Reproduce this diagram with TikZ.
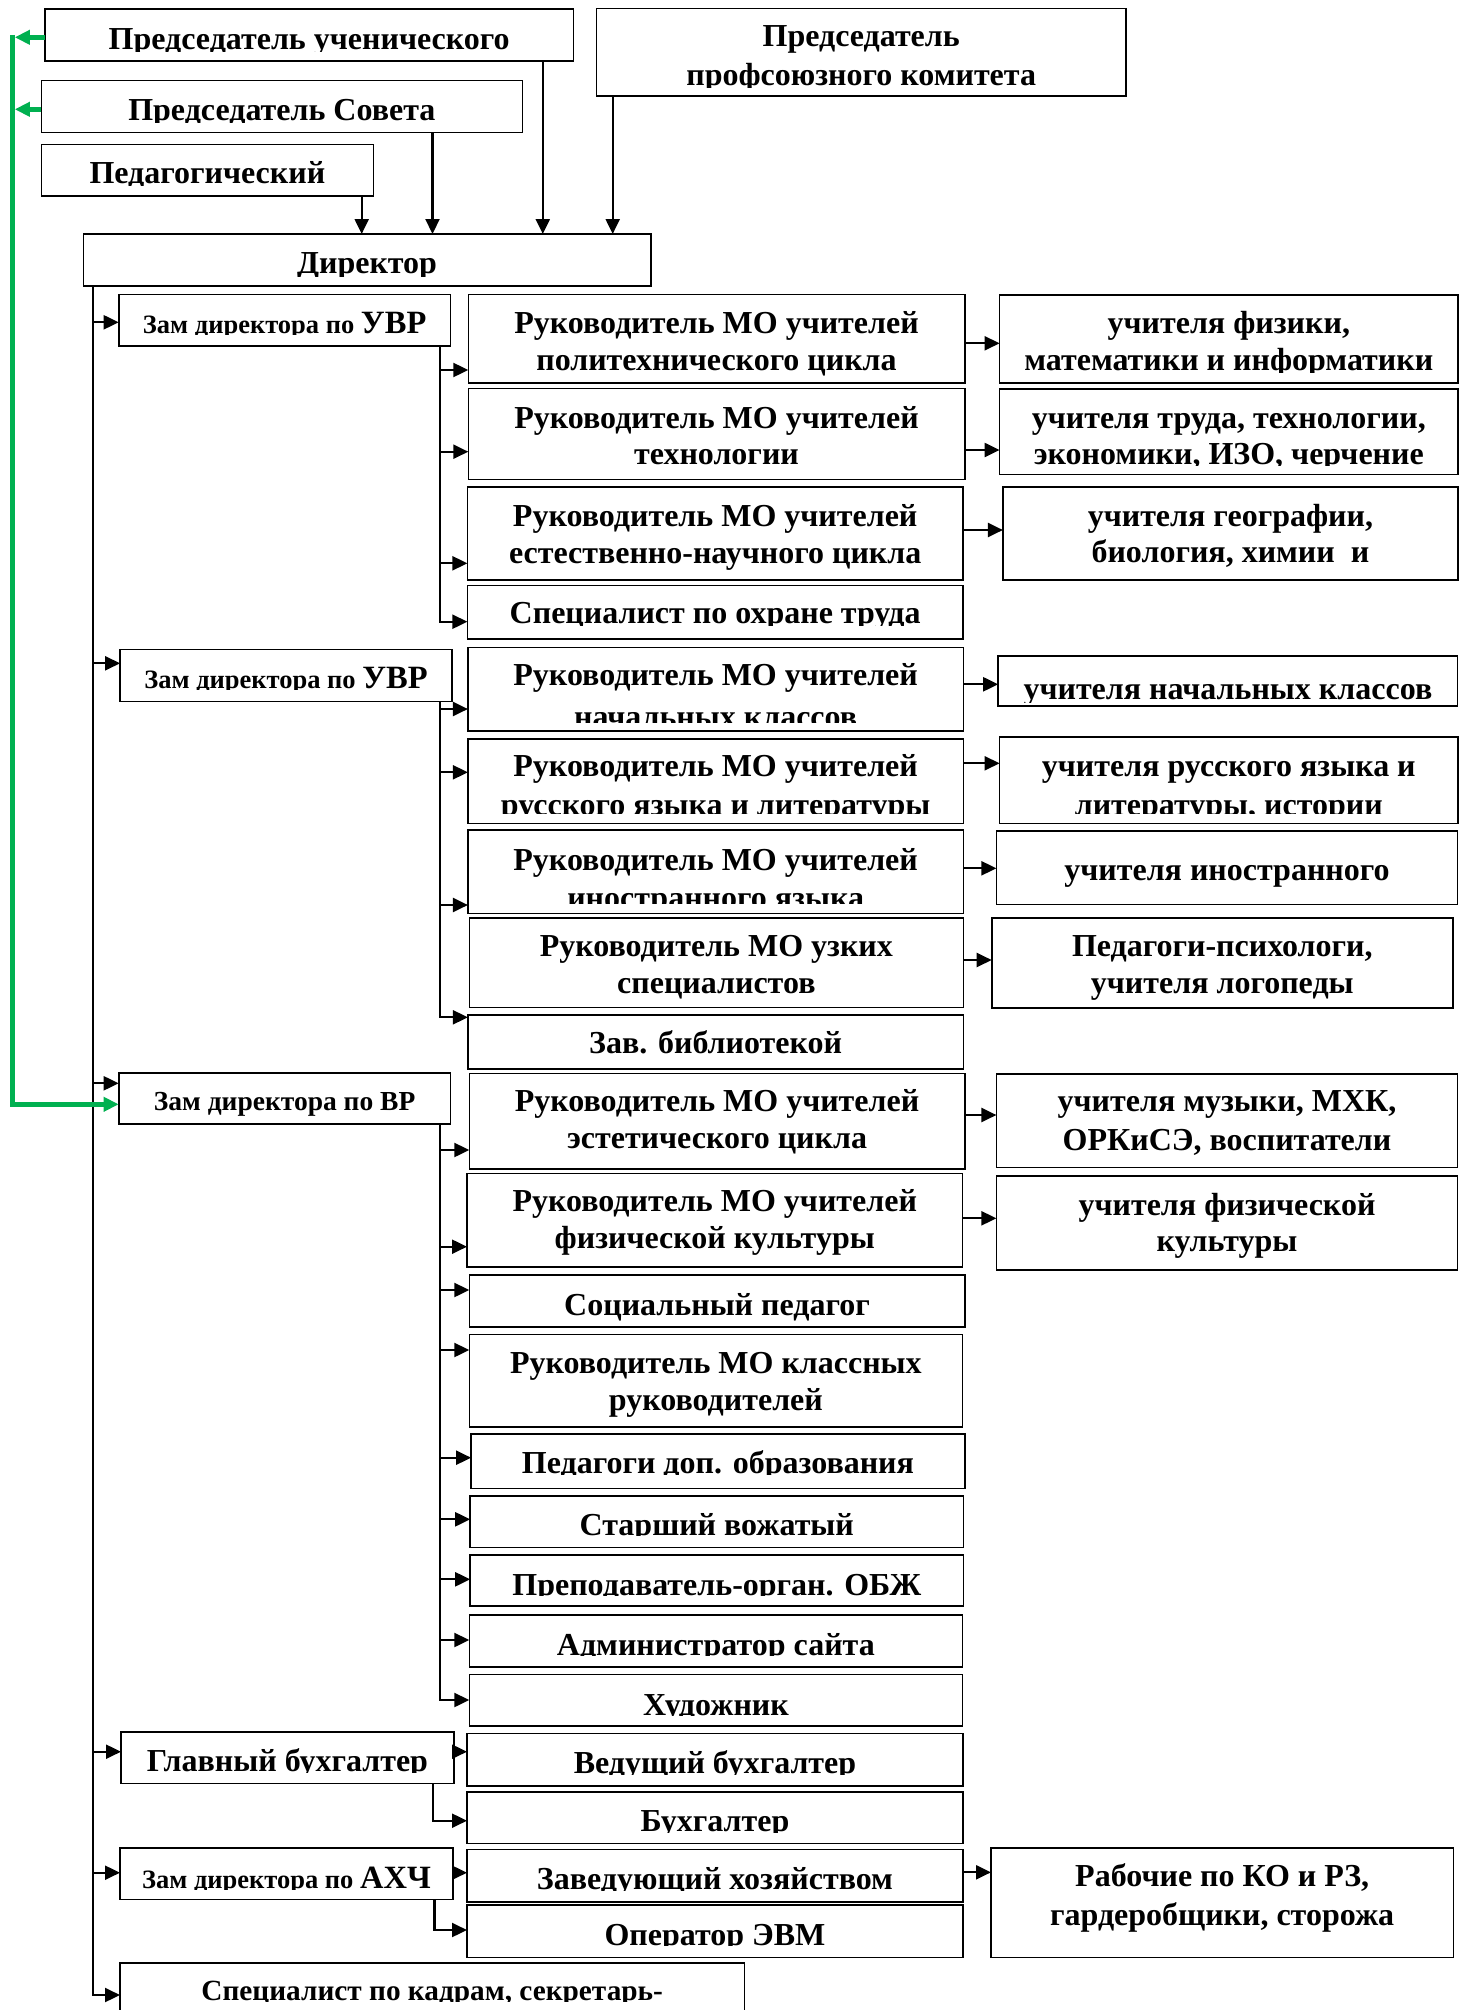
\documentclass[tikz,border=0pt]{standalone}
\usepackage{fontspec}
\setmainfont{Liberation Serif}
\usetikzlibrary{arrows.meta}
\definecolor{grn}{RGB}{0,176,80}
\tikzset{
 bx/.style={draw=black, line width=1.6pt, inner sep=0pt, outer sep=0pt},
 ln/.style={line width=2.2pt},
 arr/.style={line width=2.2pt, -{Triangle[length=15pt,width=14pt]}},
 garr/.style={draw=grn, line width=4.5pt, -{Triangle[length=15pt,width=14pt]}, color=grn},
 gln/.style={draw=grn, line width=4.5pt},
}
\newcommand\fsz[1]{\fontsize{#1}{#1}\selectfont\bfseries}
\newcommand\bxx[6]{\node[bx, minimum width={(#4-#2)*1pt}, minimum height={(#5-#3)*1pt}] (#1) at ({(#2+#4)/2},{(#3+#5)/2}) {};\gdef\curnm{#1}\gdef\clipy{#6}}
\newcommand\tx[3][32]{\begin{scope}\clip (\curnm.north west) rectangle (\curnm.east |- 0,\clipy);\node[anchor=base, inner sep=0pt, font=\fsz{#1}] at (\curnm.center |- 0,#2) {#3};\end{scope}}
\newcommand\zam{\fsz{26.5}Зам директора по }
\begin{document}
\begin{tikzpicture}[x=1pt,y=-1pt]
\useasboundingbox (0,0) rectangle (1459,2010);
\clip (0,0) rectangle (1459,2010);
\fill[white] (0,0) rectangle (1459,2010);
% top
\bxx{B1}{44.7}{9.3}{573.6}{61.3}{51.5}\tx{50}{Председатель ученического}
\bxx{B4}{596.4}{8.7}{1126}{96}{87}\tx{46.7}{Председатель}\tx{85}{профсоюзного комитета}
\bxx{B2}{41.4}{80.3}{522.3}{132.3}{122}\tx{120.7}{Председатель Совета}
\bxx{B3}{41.4}{144.3}{373.4}{196}{185}\tx{183.3}{Педагогический}
\bxx{Dir}{83.3}{234}{650.8}{286}{276.5}\tx{273.3}{Директор}
% block 1
\bxx{Z1}{118.7}{294.3}{450.6}{346}{334}\tx[32.5]{333.3}{{\zam}УВР}
\bxx{R1}{468.3}{294.3}{964.8}{383}{383}\tx{333.3}{Руководитель МО учителей}\tx{370.7}{политехнического цикла}
\bxx{R2}{468.3}{388.3}{964.8}{479.3}{479.3}\tx{428.3}{Руководитель МО учителей}\tx{464}{технологии}
\bxx{R3}{467.4}{486.7}{963}{579.7}{579.7}\tx{526.7}{Руководитель МО учителей}\tx{563.3}{естественно-научного цикла}
\bxx{R4}{467.4}{585.3}{963}{638.7}{625}\tx{623.3}{Специалист по охране труда}
\bxx{T1}{999.6}{294.7}{1458}{383}{372}\tx{333.3}{учителя физики,}\tx{370.7}{математики и информатики}
\bxx{T2}{999.6}{388.7}{1458}{474.3}{465}\tx{428.3}{учителя труда, технологии,}\tx{464}{экономики, ИЗО, черчение}
\bxx{T3}{1002.9}{486.7}{1458}{580}{580}\tx{526.7}{учителя географии,}\tx{562.7}{биология, химии ~и}
% block 2
\bxx{Z2}{120.1}{649.3}{452}{701.3}{689.5}\tx[32.5]{688.3}{{\zam}УВР}
\bxx{R5}{467.9}{647.3}{963.4}{731}{722}\tx{685.5}{Руководитель МО учителей}\tx{727}{начальных классов}
\bxx{R6}{467.9}{738.7}{963.4}{823.3}{813.5}\tx{776.7}{Руководитель МО учителей}\tx{815}{русского языка и литературы}
\bxx{R7}{467.9}{830}{963.4}{913.3}{903.5}\tx{870}{Руководитель МО учителей}\tx{908}{иностранного языка}
\bxx{R8}{469.3}{917.7}{963.4}{1007.3}{1007.3}\tx{956.7}{Руководитель МО узких}\tx{993.3}{специалистов}
\bxx{R9}{467.9}{1014.7}{963.4}{1069}{1069}\tx{1053.3}{Зав. библиотекой}
\bxx{T4}{998.2}{655.7}{1457.6}{705.7}{702}\tx{699}{учителя начальных классов}
\bxx{T5}{999.6}{736.7}{1458}{823.3}{813.5}\tx{776.7}{учителя русского языка и}\tx{815}{литературы, истории}
\bxx{T6}{996.4}{831}{1457.6}{904.3}{904.3}\tx{880}{учителя иностранного}
\bxx{T7}{991.7}{917.7}{1452.9}{1007.7}{1007.7}\tx{956.7}{Педагоги-психологи,}\tx{993.3}{учителя логопеды}
% block 3
\bxx{Z3}{118.7}{1072.7}{450.6}{1124}{1124}\tx[27.5]{1110}{Зам директора по ВР}
\bxx{R10}{469.3}{1073.3}{964.8}{1169}{1169}\tx{1111.7}{Руководитель МО учителей}\tx{1148.3}{эстетического цикла}
\bxx{R11}{467}{1173.3}{962.5}{1266.7}{1266.7}\tx{1211.7}{Руководитель МО учителей}\tx{1248.3}{физической культуры}
\bxx{R12}{469.3}{1275}{964.8}{1326.7}{1326.7}\tx{1315}{Социальный педагог}
\bxx{R13}{469.3}{1334.3}{962.5}{1426.7}{1426.7}\tx{1373.3}{Руководитель МО классных}\tx{1410}{руководителей}
\bxx{T8}{996.4}{1074}{1457.6}{1167.3}{1167.3}\tx{1111.7}{учителя музыки, МХК,}\tx{1150}{ОРКиСЭ, воспитатели}
\bxx{T9}{996.4}{1176}{1457.6}{1270}{1270}\tx{1215}{учителя физической}\tx{1251.7}{культуры}
\bxx{R14}{471.1}{1434}{964.8}{1488.3}{1474.5}\tx{1473.3}{Педагоги доп. образования}
\bxx{R15}{470.2}{1495.7}{963.4}{1547.3}{1535.5}\tx{1535}{Старший вожатый}
\bxx{R16}{470.2}{1555}{963.4}{1606}{1595.5}\tx{1595}{Преподаватель-орган. ОБЖ}
\bxx{R17}{469.3}{1615}{962.5}{1666.7}{1655.5}\tx{1655}{Администратор сайта}
\bxx{R18}{469.3}{1674.3}{962.5}{1725.7}{1715.5}\tx{1715}{Художник}
% bottom
\bxx{GB}{121}{1731.7}{454}{1783.3}{1772.5}\tx{1771.7}{Главный бухгалтер}
\bxx{VB}{467}{1733.3}{963}{1785.7}{1774}\tx{1773.3}{Ведущий бухгалтер}
\bxx{BU}{467}{1791.7}{963}{1843.3}{1832.5}\tx{1831.7}{Бухгалтер}
\bxx{ZA}{120}{1847.7}{453}{1899.3}{1889}\tx[32.5]{1888.3}{{\zam}АХЧ}
\bxx{ZH}{467}{1849.3}{963}{1901.7}{1890}\tx{1889.3}{Заведующий хозяйством}
\bxx{WK}{991}{1847.7}{1453.4}{1957.3}{1957.3}\tx{1886.7}{Рабочие по КО и РЗ,}\tx{1925.7}{гардеробщики, сторожа}
\bxx{OP}{467}{1905}{963}{1957.3}{1945.5}\tx{1945}{Оператор ЭВМ}
\bxx{SK}{120}{1962.7}{744.4}{2040}{2001}\tx[29.3]{2000}{Специалист по кадрам, секретарь-}
% arrows into director
\draw[arr] (B3.south -| 361.7,0) -- (Dir.north -| 361.7,0);
\draw[arr] (B2.south -| 432.5,0) -- (Dir.north -| 432.5,0);
\draw[arr] (B1.south -| 542.8,0) -- (Dir.north -| 542.8,0);
\draw[arr] (B4.south -| 612.7,0) -- (Dir.north -| 612.7,0);
% main trunk
\coordinate (tr) at (93,1995);
\draw[arr] (Dir.south -| tr) -- (tr) -- (SK.west |- tr);
\foreach \n/\yy in {Z1/322.3, Z2/663.3, Z3/1083.3, GB/1751.7, ZA/1872.7}
  \draw[arr] (93,\yy) -- (\n.west |- 0,\yy);
% sub trunks
\draw[arr] (Z1.south -| 440,0) -- (440,621.7) -- (R4.west |- 0,621.7);
\foreach \n/\yy in {R1/370, R2/451.7, R3/563.3}
  \draw[arr] (440,\yy) -- (\n.west |- 0,\yy);
\draw[arr] (Z2.south -| 440,0) -- (440,1017.3) -- (R9.west |- 0,1017.3);
\foreach \n/\yy in {R5/709, R6/772.3, R7/905}
  \draw[arr] (440,\yy) -- (\n.west |- 0,\yy);
\draw[arr] (Z3.south -| 440,0) -- (440,1700) -- (R18.west |- 0,1700);
\foreach \n/\yy in {R10/1150, R11/1246.7, R12/1290, R13/1350, R14/1457.7, R15/1519.3, R16/1579.3, R17/1640}
  \draw[arr] (440,\yy) -- (\n.west |- 0,\yy);
% right arrows
\foreach \a/\b/\yy in {R1/T1/343.3, R2/T2/450, R3/T3/530, R5/T4/684.3, R6/T5/763.3, R7/T6/868.3, R8/T7/960, R10/T8/1115, R11/T9/1218.3, ZH/WK/1872.3, GB/VB/1751.7, ZA/ZH/1872.7}
  \draw[arr] (\a.east |- 0,\yy) -- (\b.west |- 0,\yy);
% bent arrows
\draw[arr] (GB.south -| 432.7,0) -- (432.7,1820.7) -- (BU.west |- 0,1820.7);
\draw[arr] (ZA.south -| 434.5,0) -- (434.5,1930) -- (OP.west |- 0,1930);
% green
\coordinate (gT) at (12.6,35);
\coordinate (gB) at (12.6,1104.3);
\draw[garr] (gT) -- (gB) -- (Z3.west |- gB);
\draw[garr] (B1.west |- 0,37.3) -- (14.8,37.3);
\draw[garr] (B2.west |- 0,109.3) -- (14.8,109.3);
\end{tikzpicture}
\end{document}
